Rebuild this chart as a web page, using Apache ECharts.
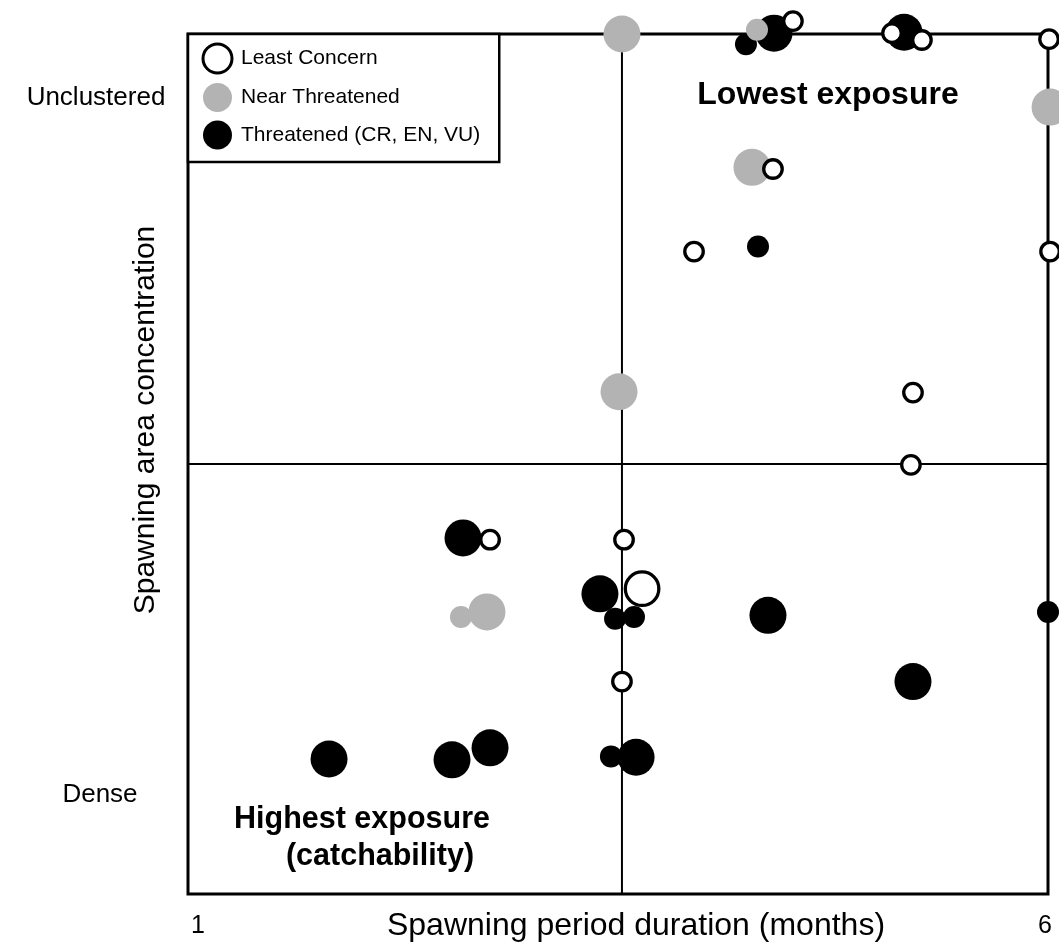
<!DOCTYPE html>
<html><head><meta charset="utf-8">
<script src="https://cdn.jsdelivr.net/npm/echarts@6/dist/echarts.min.js"></script>
<style>html,body{margin:0;padding:0;background:#fff}#c{width:1059px;height:945px}</style>
</head><body><div id="c"></div>
<script>
// Each point: [spawning period duration (months), spawning area concentration (0 = dense, 1 = unclustered), size class (1 small, 2 large)]
const seriesNames = ['Least Concern', 'Near Threatened', 'Threatened (CR, EN, VU)'];
const leastConcern = [
  [4.517,1.015,1],[5.093,1.001,1],[5.267,0.993,1],[6.006,0.994,1],[4.401,0.843,1],
  [3.942,0.747,1],[6.012,0.747,1],[5.215,0.583,1],[5.203,0.499,1],[2.756,0.412,1],
  [3.535,0.412,1],[3.640,0.355,2],[3.523,0.247,1]
];
const nearThreatened = [
  [3.523,1.000,2],[4.308,1.005,1],[6.012,0.915,2],[4.279,0.845,2],[3.506,0.584,2],
  [2.587,0.322,1],[2.738,0.328,2]
];
const threatened = [
  [4.244,0.988,1],[4.407,1.001,2],[5.163,1.002,2],[4.314,0.753,1],[2.599,0.414,2],
  [3.395,0.349,2],[3.483,0.320,1],[3.593,0.322,1],[4.372,0.324,2],[6.000,0.328,1],
  [5.215,0.247,2],[1.820,0.157,2],[2.535,0.156,2],[2.756,0.170,2],[3.459,0.160,1],
  [3.605,0.159,2]
];
const xRange = [1, 6];
const yRange = [0, 1];
const xSplit = 3.523;
const ySplit = 0.5;
const xTickLabels = ['1', '6'];
const yTickLabels = ['Dense', 'Unclustered'];
const xTitle = 'Spawning period duration (months)';
const yTitle = 'Spawning area concentration';
const quadrantNotes = ['Lowest exposure', 'Highest exposure', '(catchability)'];

const FONT = '"Liberation Sans", Arial, Helvetica, sans-serif';
const chart = echarts.init(document.getElementById('c'), null, {renderer: 'canvas'});
const filledSize = d => d[2] === 2 ? 37 : 22;
const openSize = d => d[2] === 2 ? 33.5 : 18.5;
const axisOff = {axisLine: {show: false}, axisTick: {show: false}, axisLabel: {show: false}, splitLine: {show: false}};

const txt = (text, x, y, size, weight, align) => ({
  type: 'text', x: x, y: y, z: 10,
  style: {text: text, fill: '#000', font: (weight || 'normal') + ' ' + size + 'px ' + FONT,
    textAlign: align || 'center', textVerticalAlign: 'middle'}
});

const option = {
  animation: false,
  backgroundColor: '#fff',
  grid: {left: 188, right: 11, top: 34, bottom: 51, show: true, borderColor: '#000', borderWidth: 3},
  xAxis: Object.assign({type: 'value', min: xRange[0], max: xRange[1]}, axisOff),
  yAxis: Object.assign({type: 'value', min: yRange[0], max: yRange[1]}, axisOff),
  legend: {
    left: 188, top: 34, orient: 'vertical',
    itemWidth: 29, itemHeight: 29, itemGap: 8.5,
    padding: [8.5, 19, 12.5, 13.5],
    borderColor: '#000', borderWidth: 2.5, backgroundColor: '#fff',
    textStyle: {fontSize: 21, color: '#000', fontFamily: FONT, padding: [0, 0, 0, 4]},
    data: [
      {name: seriesNames[0], icon: 'circle', itemStyle: {color: '#fff', borderColor: '#000', borderWidth: 3}},
      {name: seriesNames[1], icon: 'circle', itemStyle: {color: '#b3b3b3', borderWidth: 0}},
      {name: seriesNames[2], icon: 'circle', itemStyle: {color: '#000', borderWidth: 0}}
    ]
  },
  series: [
    {type: 'line', data: [[xSplit, yRange[0]], [xSplit, yRange[1]]], showSymbol: false, symbol: 'none',
      lineStyle: {color: '#000', width: 2}, silent: true, z: 1},
    {type: 'line', data: [[xRange[0], ySplit], [xRange[1], ySplit]], showSymbol: false, symbol: 'none',
      lineStyle: {color: '#000', width: 2}, silent: true, z: 1},
    {name: seriesNames[2], type: 'scatter', data: threatened, symbolSize: filledSize,
      itemStyle: {color: '#000', opacity: 1}, clip: false, z: 3},
    {name: seriesNames[1], type: 'scatter', data: nearThreatened, symbolSize: filledSize,
      itemStyle: {color: '#b3b3b3', opacity: 1}, clip: false, z: 4},
    {name: seriesNames[0], type: 'scatter', data: leastConcern, symbolSize: openSize,
      itemStyle: {color: '#fff', borderColor: '#000', borderWidth: 3.3, opacity: 1}, clip: false, z: 5}
  ],
  graphic: [
    txt(xTickLabels[0], 198, 926, 25),
    txt(xTickLabels[1], 1045, 926, 25),
    txt(yTickLabels[1], 96, 98, 26),
    txt(yTickLabels[0], 100, 795, 26),
    txt(xTitle, 636, 926, 32),
    {type: 'text', x: 146, y: 420, rotation: Math.PI / 2, z: 10,
      style: {text: yTitle, fill: '#000', font: 'normal 30px ' + FONT, textAlign: 'center', textVerticalAlign: 'middle'}},
    txt(quadrantNotes[0], 828, 95, 32, 'bold'),
    txt(quadrantNotes[1], 362, 820, 30.5, 'bold'),
    txt(quadrantNotes[2], 380, 857, 30.5, 'bold')
  ]
};
chart.setOption(option);
</script>
</body></html>
